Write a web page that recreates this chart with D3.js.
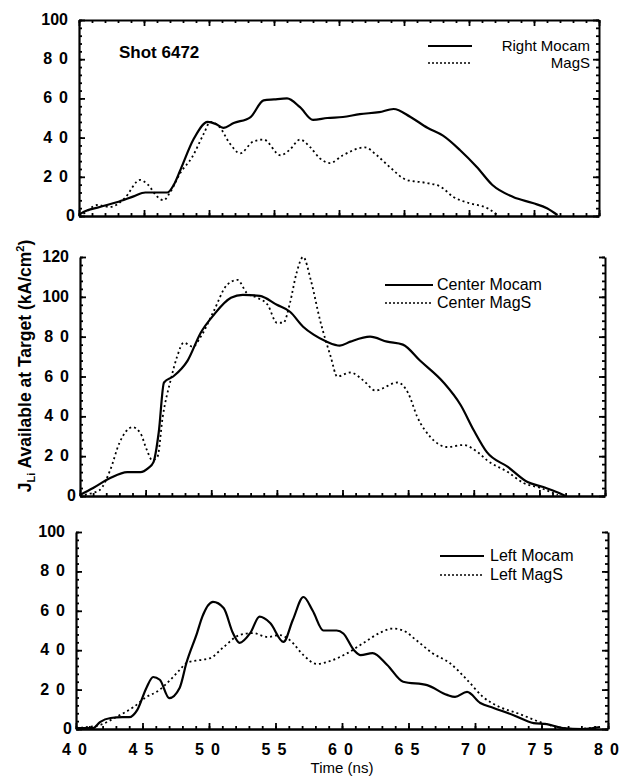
<!DOCTYPE html>
<html><head><meta charset="utf-8">
<script src="https://cdn.jsdelivr.net/npm/d3@7"></script>
<style>
body{margin:0;background:#fff;}
svg{display:block;font-family:"Liberation Sans",Arial,sans-serif;}
</style></head>
<body><svg id="c" width="636" height="776"></svg>
<script>
// ---------- data ----------
const xMajorTicks = [40,45,50,55,60,65,70,75,80];
const xTickLabels = ["40","45","50","55","60","65","70","75","80"];
const yTicksTop = [0,20,40,60,80,100];
const yTicksMid = [0,20,40,60,80,100,120];
const yTicksBot = [0,20,40,60,80,100];

const rightMocamT = [40,40.2,41.6,42.9,44.2,45.1,46,46.8,47.3,47.8,48.8,49.9,50.5,51.1,51.9,53.2,54.2,55,56,57,58,59.1,60.3,61.6,63.1,64.2,65.5,66.8,68,69.3,70.6,71.8,73.4,74.9,76,76.8];
const rightMocamV = [0.5,1.5,4.6,7,10,12,12,12,16,23.5,39,48,47,45,47.4,50.5,59,59.5,60,55.5,49,50,50.5,52,53,54.6,50.5,45,41,33.7,25,15.8,9.7,6.6,4,0.5];
const rightMagST = [40,40.3,41.4,42.4,43.5,44.7,45.3,46,46.5,47,47.8,48.7,49.6,50.1,50.8,51.6,52.4,53.4,54.2,55.5,56.2,57,57.8,58.5,59.3,60.3,62,62.9,63.9,65.2,66.8,67.8,68.8,70,71.4,72.2];
const rightMagSV = [0,1,5.6,4.6,9,18.4,16,10,8,12,22,30,42,48,45.5,37,32,38,39,31,33.7,39,35,29.6,27,31,35,31,25,18.4,16.8,15,9.7,6.6,4,0.5];

const centerMocamT = [40,41,42.3,43.6,44.6,45.2,45.6,46,46.4,47.1,48.2,49.2,50.2,51.5,52.4,53.7,55,56,57,57.8,58.8,59.8,60.6,62.1,63.4,64.6,65.9,67.7,69,70,71,72.6,74.1,75.3,76.5,77];
const centerMocamV = [0.5,4,9,12,12,14,17,32,57,60,68,82,91,99.5,101,100.5,96,92.5,85,81,77.5,75.5,77.5,80,77.5,76,68,57,45.7,33,22,14.6,7,4.5,1.5,0];
const centerMagST = [40,40.3,41.5,42.3,43,44,44.6,45.1,45.5,45.9,46.3,46.9,47.4,47.9,48.6,49.2,50.2,51.2,52,52.7,53.5,54.3,55,55.5,56,56.5,57,57.6,58.3,59.1,59.6,60.6,61.6,62.5,64.2,65,65.7,66.7,68,69.2,70.3,71,72.6,73.8,75.1,76.4];
const centerMagSV = [0,0.5,3,13,26.6,34.6,31.6,23,18,19.6,39.7,58,70,77,75,80,93,106,108.5,102,99.5,96,87,87,97,112,120,108,88,70,60,62,58,53,57,51.7,39.7,29.6,24.6,25.6,22,18,12,6.5,4,0.5];

const leftMocamT = [40,41.3,41.8,42.6,43.5,44,44.6,45.3,45.8,46.3,47,47.8,48.3,49.1,49.5,50.3,51.1,51.8,52.3,53.1,53.8,54.6,55.6,56.3,57.1,57.8,58.6,59.6,60.1,60.9,61.4,62.3,63.4,64.6,66.4,67.9,68.5,69.4,70.4,71.4,72.9,74.4,75.4,76.6,78.1,79.4];
const leftMocamV = [0.5,0.5,3.5,5.6,6,6,9.6,21,26.4,25,15.7,21,33.5,48.7,57,64.5,61.4,48.7,43.7,48.7,57,53.8,44.2,55.3,67,60,50,50,48.5,40,37.5,38.5,32.5,24,22.3,17.3,16.3,18.8,13.2,10.7,7,3,2.5,0.5,0,1];
const leftMagST = [40,40.3,41.8,43,44.3,45.3,46.1,47.1,47.8,48.3,49.3,50.1,51.1,52.3,53.3,54.4,55.3,56.1,57.1,58.1,59.3,60.4,61.6,62.9,63.8,64.6,65.6,66.8,68.1,69.4,70.6,71.9,73.2,74.9,76.2,77.4,79.4];
const leftMagSV = [0,0.5,2,6,11,16.3,19,25,30,33.5,35,36,41.6,47.7,48.7,46.7,47.7,45,37.5,33,35,38.5,43.6,49,51,50,45,38.5,33.5,25,16.3,11,8,3.5,1,0,1];

const legendTop = ["Right Mocam","MagS"];
const legendMid = ["Center Mocam","Center MagS"];
const legendBot = ["Left Mocam","Left MagS"];

// ---------- layout ----------
const svg = d3.select("#c");
const FONT = "'Liberation Sans',Arial,sans-serif";

const panels = [
  {x0:79, x1:599, yb:216, yt:20, ymax:100, yticks:yTicksTop, topAxis:true,
   series:[[rightMocamT,rightMocamV],[rightMagST,rightMagSV]],
   legend:{names:legendTop, lx1:428, lx2:472, ys:[46,63], anchor:"end", tx:590, fs:15}},
  {x0:80, x1:605, yb:496, yt:257, ymax:120, yticks:yTicksMid, topAxis:false,
   series:[[centerMocamT,centerMocamV],[centerMagST,centerMagSV]],
   legend:{names:legendMid, lx1:385, lx2:433, ys:[285,303], anchor:"start", tx:437, fs:16}},
  {x0:76, x1:608, yb:729, yt:532, ymax:100, yticks:yTicksBot, topAxis:false, xlabels:true,
   series:[[leftMocamT,leftMocamV],[leftMagST,leftMagSV]],
   legend:{names:legendBot, lx1:440, lx2:484, ys:[556,575], anchor:"start", tx:490, fs:16}}
];

const minorX = d3.range(40,81,1);

panels.forEach(p => {
  const x = d3.scaleLinear().domain([40,80]).range([p.x0,p.x1]);
  const y = d3.scaleLinear().domain([0,p.ymax]).range([p.yb,p.yt]);
  const minorY = d3.range(0,p.ymax+0.1,4);
  const g = svg.append("g");

  function styleAxis(sel, sw){
    sel.selectAll("path.domain").attr("stroke","#000").attr("stroke-width",sw);
    sel.selectAll(".tick line").attr("stroke","#000").attr("stroke-width",1.8);
    sel.selectAll(".tick text").remove();
  }
  // bottom axis
  g.append("g").attr("transform",`translate(0,${p.yb})`)
    .call(d3.axisBottom(x).tickValues(minorX).tickSize(-3).tickSizeOuter(0).tickFormat(""))
    .call(s=>styleAxis(s,2.6));
  g.append("g").attr("transform",`translate(0,${p.yb})`)
    .call(d3.axisBottom(x).tickValues(xMajorTicks).tickSize(-6).tickSizeOuter(0).tickFormat(""))
    .call(s=>{s.select("path.domain").remove(); styleAxis(s,0);});
  if (p.topAxis){
    g.append("g").attr("transform",`translate(0,${p.yt})`)
      .call(d3.axisTop(x).tickValues(minorX).tickSize(-3).tickSizeOuter(0).tickFormat(""))
      .call(s=>styleAxis(s,2.2));
    g.append("g").attr("transform",`translate(0,${p.yt})`)
      .call(d3.axisTop(x).tickValues(xMajorTicks).tickSize(-6).tickSizeOuter(0).tickFormat(""))
      .call(s=>{s.select("path.domain").remove(); styleAxis(s,0);});
  }
  // left axis
  g.append("g").attr("transform",`translate(${p.x0},0)`)
    .call(d3.axisLeft(y).tickValues(minorY).tickSize(-3).tickSizeOuter(0).tickFormat(""))
    .call(s=>styleAxis(s,2.2));
  g.append("g").attr("transform",`translate(${p.x0},0)`)
    .call(d3.axisLeft(y).tickValues(p.yticks).tickSize(-6).tickSizeOuter(0).tickFormat(""))
    .call(s=>{s.select("path.domain").remove(); styleAxis(s,0);});
  // right axis
  g.append("g").attr("transform",`translate(${p.x1},0)`)
    .call(d3.axisRight(y).tickValues(minorY).tickSize(-3).tickSizeOuter(0).tickFormat(""))
    .call(s=>styleAxis(s,2.0));
  g.append("g").attr("transform",`translate(${p.x1},0)`)
    .call(d3.axisRight(y).tickValues(p.yticks).tickSize(-6).tickSizeOuter(0).tickFormat(""))
    .call(s=>{s.select("path.domain").remove(); styleAxis(s,0);});

  // y tick labels
  g.selectAll("text.yl").data(p.yticks).join("text")
    .attr("x", d => d>=100 ? p.x0-11 : p.x0-4)
    .attr("y", d => y(d)+5)
    .attr("text-anchor","end")
    .attr("font-family",FONT).attr("font-weight","bold").attr("font-size",16)
    .style("letter-spacing", d => (d>0 && d<100) ? "7px" : "0px")
    .text(d => String(d));

  if (p.xlabels){
    g.selectAll("text.xl").data(xMajorTicks).join("text")
      .attr("x", (d,i) => x(d)+2)
      .attr("y", p.yb+26)
      .attr("text-anchor","middle")
      .attr("font-family",FONT).attr("font-weight","bold").attr("font-size",16)
      .style("letter-spacing","7px")
      .text((d,i) => xTickLabels[i]);
  }

  // lines
  const line = d3.line().x(d=>x(d[0])).y(d=>y(d[1])).curve(d3.curveMonotoneX);
  p.series.forEach((s,i) => {
    const pts = s[0].map((t,k)=>[t,s[1][k]]);
    g.append("path").attr("d", line(pts)).attr("fill","none").attr("stroke","#000")
      .attr("stroke-width", i===0 ? 2.2 : 1.8)
      .attr("stroke-dasharray", i===0 ? null : "2,3")
      .attr("stroke-linejoin","round");
  });

  // legend
  const L = p.legend;
  L.names.forEach((n,i) => {
    g.append("line").attr("x1",L.lx1).attr("x2",L.lx2).attr("y1",L.ys[i]).attr("y2",L.ys[i])
      .attr("stroke","#000").attr("stroke-width", i===0?1.8:1.5)
      .attr("stroke-dasharray", i===0?null:"2,2");
    g.append("text").attr("x",L.tx).attr("y",L.ys[i]+5)
      .attr("text-anchor",L.anchor).attr("font-family",FONT).attr("font-size",L.fs)
      .text(n);
  });
});

// annotations
svg.append("text").attr("x",119).attr("y",58).attr("font-family",FONT)
  .attr("font-weight","bold").attr("font-size",17).text("Shot 6472");

const yl = svg.append("text").attr("transform","translate(31,366) rotate(-90)")
  .attr("text-anchor","middle").attr("font-family",FONT).attr("font-weight","bold").attr("font-size",17.5);
yl.append("tspan").text("J");
yl.append("tspan").attr("font-size",11).attr("dy",4).text("Li");
yl.append("tspan").attr("dy",-4).text(" Available at Target (kA/cm");
yl.append("tspan").attr("font-size",11).attr("dy",-7).text("2");
yl.append("tspan").attr("dy",7).text(")");

svg.append("text").attr("x",342).attr("y",773).attr("text-anchor","middle")
  .attr("font-family",FONT).attr("font-size",15).text("Time (ns)");
</script></body></html>
